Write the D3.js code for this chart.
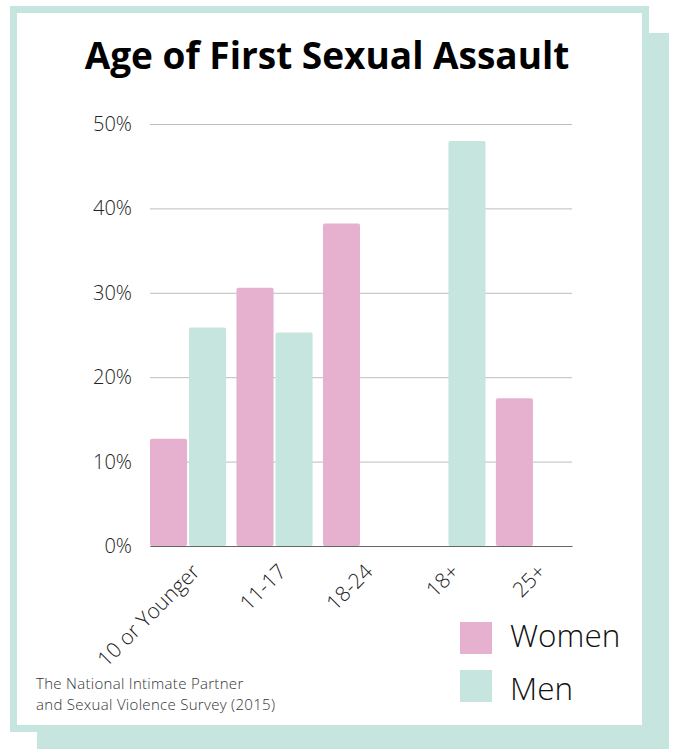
<!DOCTYPE html>
<html>
<head>
<meta charset="utf-8">
<script src="https://cdn.jsdelivr.net/npm/d3@7"></script>
<style>
  body { margin: 0; background: #fff; }
  svg { display: block; font-family: "Open Sans", sans-serif; }
</style>
</head>
<body>
<svg id="chart"></svg>
<script>
// data
var categories = ["10 or Younger", "11-17", "18-24", "18+", "25+"];
var women = [12.7, 30.6, 38.2, null, 17.5];
var men = [25.9, 25.3, null, 48.0, null];
var yTicks = [0, 10, 20, 30, 40, 50];
var seriesNames = ["Women", "Men"];
var sourceLines = ["The National Intimate Partner", "and Sexual Violence Survey (2015)"];

var width = 675, height = 749;
var colors = {"Women": "#e6b1cf", "Men": "#c5e5de"};
var margin = {top: 124, left: 150, right: 103, bottom: 203};

var svg = d3.select("#chart").attr("width", width).attr("height", height);

// shadow + card
svg.append("rect").attr("x", 37).attr("y", 33).attr("width", 632).attr("height", 730).attr("fill", "#c5e5de");
svg.append("rect").attr("x", 13.5).attr("y", 9.5).attr("width", 632).attr("height", 719)
  .attr("fill", "#fff").attr("stroke", "#c5e5de").attr("stroke-width", 7);

// title
svg.append("text").attr("x", 327).attr("y", 69).attr("text-anchor", "middle")
  .attr("font-size", "37px").attr("font-weight", 700).attr("fill", "#000")
  .text("Age of First Sexual Assault");

var plotW = width - margin.left - margin.right;
var plotH = height - margin.top - margin.bottom;

var x0 = d3.scaleBand().domain(categories).range([0, plotW]).paddingInner(0.12).paddingOuter(0);
var x1 = d3.scaleBand().domain(seriesNames).range([0, x0.bandwidth()]).paddingInner(0.05);
var y = d3.scaleLinear().domain([0, 50]).range([plotH, 0]);

var g = svg.append("g").attr("transform", `translate(${margin.left}, ${margin.top})`);

// y axis with gridlines
var yAxis = g.append("g").attr("class", "y_axis")
  .call(d3.axisLeft(y).tickValues(yTicks).tickFormat(d => d + "%").tickSize(-plotW).tickPadding(18));
yAxis.select(".domain").remove();
yAxis.selectAll("line").attr("stroke", "#bdbdbd").attr("stroke-width", 1);
yAxis.selectAll("text").attr("font-size", "20px").attr("font-weight", 300).attr("fill", "#222")
  .attr("font-family", "Open Sans");

// bars
var rows = categories.map((c, i) => ({cat: c, vals: [{key: "Women", v: women[i]}, {key: "Men", v: men[i]}]}));
var groups = g.selectAll(".grp").data(rows).join("g").attr("class", "grp")
  .attr("transform", d => `translate(${x0(d.cat)}, 0)`);
groups.selectAll("rect").data(d => d.vals.filter(e => e.v !== null)).join("rect")
  .attr("x", d => x1(d.key)).attr("y", d => y(d.v))
  .attr("width", x1.bandwidth()).attr("height", d => plotH - y(d.v))
  .attr("rx", 2).attr("fill", d => colors[d.key]);

// x axis
var xAxis = g.append("g").attr("transform", `translate(0, ${plotH})`)
  .call(d3.axisBottom(x0).tickSize(0));
xAxis.select(".domain").attr("stroke", "#666").attr("stroke-width", 1.2);
xAxis.selectAll("text").attr("font-size", "21px").attr("font-weight", 300).attr("fill", "#222")
  .attr("font-family", "Open Sans")
  .attr("x", 0).attr("y", 0).attr("dy", 0)
  .attr("text-anchor", "end")
  .attr("transform", "translate(13, 27) rotate(-45)");

// legend
var legend = svg.append("g").attr("transform", "translate(460, 622)");
seriesNames.forEach((k, i) => {
  legend.append("rect").attr("x", 0).attr("y", i * 48).attr("width", 32).attr("height", 32).attr("fill", colors[k]);
  legend.append("text").attr("x", 50).attr("y", i * 53 + 25).attr("font-size", "31.5px").attr("font-weight", 300)
    .attr("fill", "#111").text(k);
});

// source
svg.append("g").selectAll("text").data(sourceLines).join("text")
  .attr("x", 36).attr("y", (d, i) => 689 + i * 21)
  .attr("font-size", "15px").attr("font-weight", 300).attr("letter-spacing", "0.3px").attr("fill", "#333")
  .text(d => d);
</script>
</body>
</html>
